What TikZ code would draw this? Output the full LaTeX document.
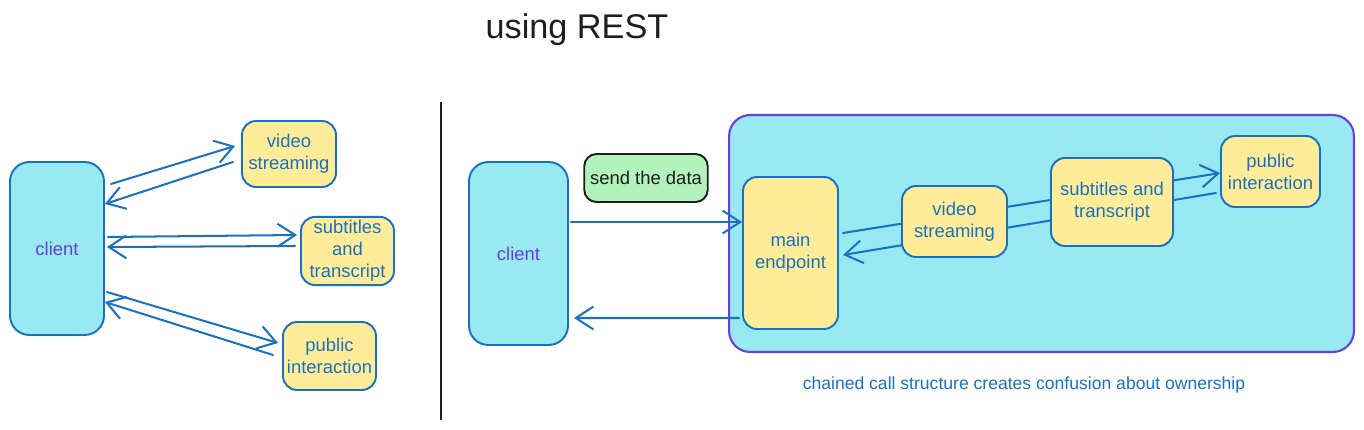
\documentclass[tikz,border=0pt]{standalone}
\usepackage{fontspec}
\setmainfont{Liberation Sans}
\usetikzlibrary{arrows.meta,calc}
\definecolor{strokeblue}{HTML}{1971C2}
\definecolor{cyanfill}{HTML}{99E9F2}
\definecolor{yellowfill}{HTML}{FFEC99}
\definecolor{greenfill}{HTML}{B2F2BB}
\definecolor{clientviolet}{HTML}{6741D9}
\definecolor{inkblack}{HTML}{1E1E1E}

\begin{document}
\begin{tikzpicture}[x=0.02cm, y=-0.02cm, >={Straight Barb[length=10pt,width=13pt]},
    font=\fontsize{10.5}{12.5}\selectfont,
    svc/.style={draw=strokeblue, fill=yellowfill, line width=1.1pt, rounded corners=8pt,
      text=strokeblue, align=center, inner sep=2pt},
    cli/.style={draw=strokeblue, fill=cyanfill, line width=1.1pt, rounded corners=11pt,
      text=clientviolet, minimum width=1.9cm},
    flow/.style={->, draw=strokeblue, line width=1.15pt, line cap=round}]
			\useasboundingbox (0,0) rectangle (1364,429);

			\node[text=inkblack, font=\fontsize{19.5}{22}\selectfont] (title) at (577,30) {using REST};
			\coordinate (divtop) at (441,102);
			\coordinate (divbot) at (441,420);
			\draw[inkblack, line width=1.1pt] (divtop) -- (divbot);

			\node[cli, minimum width=1.88cm, minimum height=3.46cm] (client1) at (57,248.5) {client};
			\node[svc, minimum width=1.88cm, minimum height=1.32cm] (video1) at (289,154) {video\\streaming};
			\node[svc, minimum width=1.86cm, minimum height=1.36cm] (subs1) at (347.5,251) {subtitles\\and\\transcript};
			\node[svc, minimum width=1.86cm, minimum height=1.36cm] (pub1) at (329.5,356) {public\\interaction};

			\draw[flow] ($(client1.east)+(6,-64.5)$) -- ($(video1.west)+(-6,-8)$);
			\draw[flow] ($(video1.west)+(-8,8)$) -- ($(client1.east)+(0,-44.5)$);
			\draw[flow] ($(client1.east)+(3,-11.5)$) -- ($(subs1.west)+(-3,-16)$);
			\draw[flow] ($(subs1.west)+(-5,-5)$) -- ($(client1.east)+(2,-1.5)$);
			\draw[flow] ($(client1.east)+(2,43.5)$) -- ($(pub1.west)+(-4,-13)$);
			\draw[flow] ($(pub1.west)+(-9,-1)$) -- ($(client1.east)+(0,53.5)$);

			\node[cli, minimum width=1.98cm, minimum height=3.66cm] (client2) at (518.5,253.5) {client};
			\node[draw=inkblack, fill=greenfill, line width=1.1pt, rounded corners=7pt, text=inkblack,
				minimum width=2.44cm, minimum height=0.96cm] (send) at (646,178) {send the data};
			\node[draw=clientviolet, fill=cyanfill, line width=1.2pt, rounded corners=12pt,
				minimum width=12.5cm, minimum height=4.74cm] (backend) at (1041.5,233.5) {};
			\node[svc, minimum width=1.9cm, minimum height=3.04cm] (main) at (790.5,253) {main\\endpoint};
			\node[svc, minimum width=1.98cm, minimum height=1.42cm] (pub2) at (1270.5,171.5) {public\\interaction};

			\draw[flow] ($(client2.east)+(2,-31.5)$) -- ($(main.west)+(0,-31)$);
			\draw[flow] ($(main.west)+(-3,65)$) -- ($(client2.east)+(5,64.5)$);
			\draw[flow] ($(main.east)+(4,-20)$) -- ($(pub2.west)+(0,1.5)$);
			\draw[flow] ($(pub2.west)+(-4,21.5)$) -- ($(main.east)+(4,2)$);

			\node[svc, minimum width=2.1cm, minimum height=1.42cm] (video2) at (954.5,221.5) {video\\streaming};
			\node[svc, minimum width=2.44cm, minimum height=1.76cm] (subs2) at (1112,202) {subtitles and\\transcript};

			\node[text=strokeblue, font=\fontsize{10}{12}\selectfont] (caption) at (1024,385)
				{chained call structure creates confusion about ownership};
		\end{tikzpicture}
\end{document}
